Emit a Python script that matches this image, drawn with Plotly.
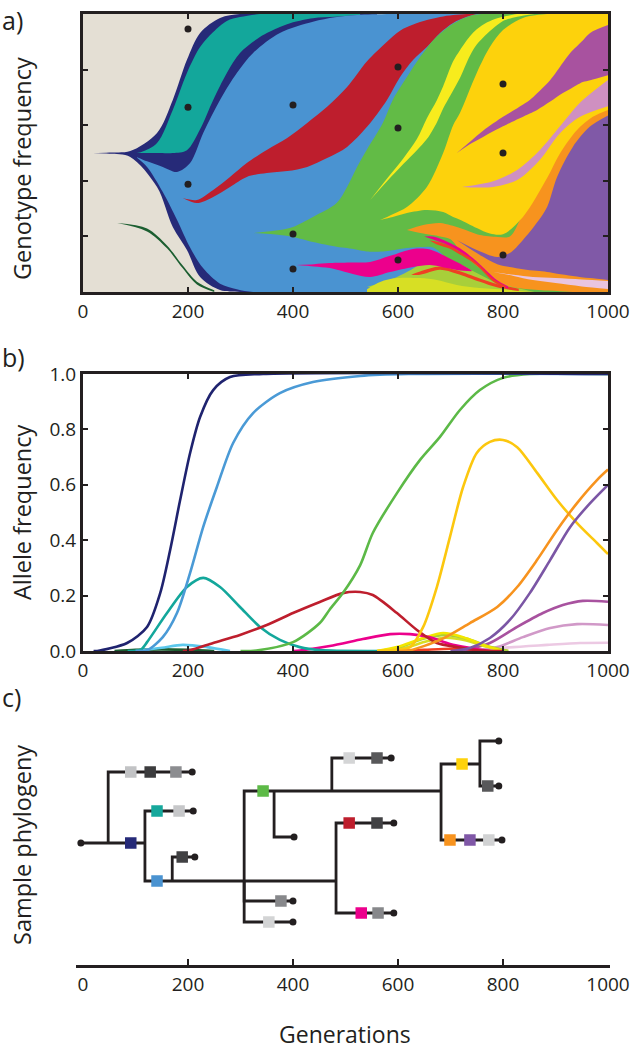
import plotly.graph_objects as go

FONT = "Open Sans"
INK = "#231f20"

# ---------------- Panel a: Muller plot (generation, upper freq, lower freq) ----------------
BG_X = [0, 1000]
BG_HI = [1.0, 1.0]
BG_LO = [0.0, 0.0]

DKGREEN_X = [65, 122, 160, 190, 217, 250]
DKGREEN_HI = [0.248, 0.228, 0.167, 0.095, 0.037, 0.006]
DKGREEN_LO = [0.248, 0.218, 0.157, 0.085, 0.027, 0.0]

NAVY_X = [19, 50, 90, 141, 171, 198, 223, 261, 299, 340, 450, 560]
NAVY_HI = [0.5, 0.502, 0.507, 0.572, 0.691, 0.835, 0.932, 0.986, 1.0, 1.0, 1.0, 1.0]
NAVY_LO = [0.5, 0.497, 0.486, 0.378, 0.234, 0.151, 0.054, 0.007, 0.0, 0.0, 0.0, 0.0]

TEAL_X = [85, 110, 141, 171, 198, 223, 248, 274, 299, 337, 375, 400, 438, 480, 528]
TEAL_HI = [0.5, 0.503, 0.536, 0.655, 0.788, 0.881, 0.935, 0.975, 0.989, 1, 1, 1, 1, 1, 1]
TEAL_LO = [0.5, 0.5, 0.5, 0.5, 0.51, 0.585, 0.691, 0.788, 0.86, 0.917, 0.953, 0.97, 0.985, 0.99, 0.996]

LBLUE_X = [103, 122, 152, 179, 204, 229, 261, 293, 324, 375, 438, 480, 528, 600, 1000]
LBLUE_HI = [0.485, 0.47, 0.45, 0.432, 0.464, 0.572, 0.691, 0.788, 0.86, 0.932, 0.972, 0.988, 0.997, 1, 1]
LBLUE_LO = [0.483, 0.45, 0.36, 0.26, 0.16, 0.085, 0.03, 0.01, 0, 0, 0, 0, 0, 0, 0]

RED_X = [190, 217, 248, 280, 312, 350, 389, 427, 465, 503, 541, 579, 604, 629, 655, 680, 705, 731, 750]
RED_HI = [0.338, 0.331, 0.367, 0.414, 0.464, 0.511, 0.554, 0.608, 0.666, 0.737, 0.83, 0.9, 0.94, 0.962, 0.978, 0.989, 0.996, 1, 1]
RED_LO = [0.338, 0.32, 0.342, 0.378, 0.414, 0.428, 0.435, 0.45, 0.482, 0.522, 0.594, 0.691, 0.773, 0.835, 0.881, 0.932, 0.968, 0.99, 1]

GREEN_X = [324, 375, 400, 438, 483, 503, 522, 540, 571, 590, 617, 642, 667, 693, 718, 743, 760, 1000]
GREEN_HI = [0.212, 0.223, 0.234, 0.27, 0.32, 0.378, 0.45, 0.51, 0.608, 0.691, 0.773, 0.845, 0.906, 0.95, 0.978, 0.996, 1, 1]
GREEN_LO = [0.212, 0.205, 0.198, 0.18, 0.163, 0.158, 0.152, 0.146, 0.146, 0.15, 0.158, 0.162, 0.16, 0.12, 0.06, 0, 0, 0]

YELLOW_X = [547, 580, 610, 636, 655, 674, 686, 705, 718, 737, 750, 770, 789, 800, 827, 860]
YELLOW_HI = [0.331, 0.41, 0.48, 0.55, 0.625, 0.69, 0.74, 0.83, 0.87, 0.92, 0.945, 0.97, 0.985, 0.99, 1, 1]
YELLOW_LO = [0.331, 0.4, 0.46, 0.51, 0.55, 0.61, 0.66, 0.725, 0.77, 0.85, 0.89, 0.93, 0.96, 0.975, 0.99, 1]

ORANGE_X = [617, 648, 680, 700, 718, 740, 756, 790, 813, 838, 884, 909, 941, 971, 1000]
ORANGE_HI = [0.223, 0.241, 0.248, 0.24, 0.23, 0.215, 0.205, 0.198, 0.2, 0.28, 0.42, 0.51, 0.59, 0.64, 0.665]
ORANGE_LO = [0.223, 0.21, 0.2, 0.19, 0.15, 0.11, 0.085, 0.035, 0.02, 0.012, 0.005, 0.003, 0.0, 0.0, 0.0]

GOLD_X = [566, 590, 617, 655, 686, 705, 718, 750, 775, 800, 838, 884, 909, 941, 971, 1000]
GOLD_HI = [0.259, 0.28, 0.306, 0.378, 0.5, 0.6, 0.644, 0.788, 0.881, 0.942, 0.986, 1, 1, 1, 1, 1]
GOLD_LO = [0.259, 0.27, 0.284, 0.295, 0.288, 0.27, 0.26, 0.23, 0.21, 0.208, 0.27, 0.41, 0.5, 0.583, 0.63, 0.655]

LIME_X = [541, 570, 598, 625, 648, 680, 712, 750, 789, 827, 860]
LIME_HI = [0.018, 0.035, 0.054, 0.08, 0.104, 0.115, 0.104, 0.068, 0.032, 0.014, 0.0]
LIME_LO = [0.018, 0.012, 0.005, 0.0, 0.0, 0.0, 0.0, 0.0, 0.0, 0.0, 0.0]

CITRON_X = [541, 566, 598, 642, 674, 712, 756, 813, 850]
CITRON_HI = [0.01, 0.036, 0.05, 0.05, 0.043, 0.025, 0.014, 0.007, 0.0]
CITRON_LO = [0.0, 0.0, 0.0, 0.0, 0.0, 0.0, 0.0, 0.0, 0.0]

VERMIL_X = [625, 642, 680, 712, 756, 790, 830]
VERMIL_HI = [0.062, 0.074, 0.092, 0.078, 0.049, 0.028, 0.012]
VERMIL_LO = [0.062, 0.062, 0.08, 0.066, 0.037, 0.016, 0.004]

HOTPINK_X = [407, 440, 470, 514, 547, 585, 629, 661, 693, 715, 740]
HOTPINK_HI = [0.097, 0.1, 0.104, 0.106, 0.108, 0.13, 0.155, 0.153, 0.126, 0.105, 0.078]
HOTPINK_LO = [0.097, 0.092, 0.086, 0.065, 0.054, 0.072, 0.09, 0.097, 0.086, 0.078, 0.075]

PSTRIPE_X = [650, 667, 693, 718, 743, 770, 789, 810]
PSTRIPE_HI = [0.2, 0.2, 0.182, 0.157, 0.121, 0.074, 0.042, 0.02]
PSTRIPE_LO = [0.2, 0.189, 0.17, 0.145, 0.109, 0.062, 0.03, 0.012]

RSTRIPE_X = [660, 674, 700, 718, 740, 756, 781, 805]
RSTRIPE_HI = [0.185, 0.181, 0.165, 0.145, 0.12, 0.095, 0.048, 0.022]
RSTRIPE_LO = [0.185, 0.171, 0.155, 0.135, 0.11, 0.085, 0.038, 0.014]

PURPLE_X = [712, 750, 789, 813, 838, 864, 884, 903, 933, 965, 1000]
PURPLE_HI = [0.187, 0.151, 0.126, 0.14, 0.187, 0.248, 0.306, 0.414, 0.522, 0.594, 0.635]
PURPLE_LO = [0.187, 0.14, 0.1, 0.09, 0.082, 0.076, 0.072, 0.066, 0.058, 0.05, 0.043]

PALEPINK_X = [781, 820, 857, 900, 950, 1000]
PALEPINK_HI = [0.072, 0.062, 0.054, 0.05, 0.045, 0.04]
PALEPINK_LO = [0.072, 0.058, 0.043, 0.032, 0.02, 0.011]

MAUVE_X = [712, 740, 762, 800, 813, 851, 865, 890, 914, 928, 952, 966, 1000]
MAUVE_HI = [0.5, 0.545, 0.58, 0.63, 0.645, 0.691, 0.715, 0.763, 0.825, 0.86, 0.905, 0.932, 0.96]
MAUVE_LO = [0.5, 0.535, 0.558, 0.596, 0.608, 0.642, 0.655, 0.685, 0.716, 0.73, 0.755, 0.762, 0.78]

ORCHID_X = [722, 750, 781, 827, 870, 909, 947, 1000]
ORCHID_HI = [0.378, 0.386, 0.398, 0.439, 0.51, 0.597, 0.682, 0.763]
ORCHID_LO = [0.378, 0.376, 0.378, 0.403, 0.475, 0.572, 0.63, 0.668]

DOT_GEN = [200, 200, 200, 400, 400, 400, 600, 600, 600, 800, 800, 800]
DOT_FREQ = [0.946, 0.665, 0.388, 0.673, 0.209, 0.083, 0.809, 0.59, 0.115, 0.748, 0.5, 0.133]

# ---------------- Panel b: allele frequencies ----------------
NAVY_AF_X = [20, 27, 84, 122, 147, 166, 185, 204, 223, 248, 280, 343, 1000]
NAVY_AF_Y = [0, 0.0, 0.029, 0.087, 0.209, 0.365, 0.545, 0.715, 0.845, 0.942, 0.989, 1, 1]
LBLUE_AF_X = [100, 122, 152, 179, 204, 229, 255, 286, 324, 375, 438, 528, 620, 1000]
LBLUE_AF_Y = [0, 0.003, 0.05, 0.137, 0.282, 0.448, 0.592, 0.751, 0.859, 0.931, 0.971, 0.993, 1, 1]
TEAL_AF_X = [85, 110, 122, 160, 198, 229, 261, 299, 337, 375, 413, 451, 560]
TEAL_AF_Y = [0, 0.005, 0.032, 0.137, 0.231, 0.264, 0.231, 0.159, 0.087, 0.04, 0.014, 0.003, 0]
RED_AF_X = [190, 204, 248, 299, 350, 400, 451, 495, 528, 552, 598, 636, 674, 712, 750, 800]
RED_AF_Y = [0, 0.003, 0.029, 0.058, 0.094, 0.137, 0.177, 0.209, 0.213, 0.202, 0.137, 0.076, 0.029, 0.014, 0.003, 0]
GREEN_AF_X = [300, 330, 400, 451, 470, 495, 528, 552, 598, 642, 680, 718, 756, 800, 851, 1000]
GREEN_AF_Y = [0, 0.002, 0.032, 0.101, 0.15, 0.209, 0.31, 0.426, 0.57, 0.69, 0.773, 0.87, 0.942, 0.986, 1, 1]
GOLD_AF_X = [560, 600, 623, 648, 674, 699, 724, 750, 775, 800, 827, 865, 903, 941, 979, 1000]
GOLD_AF_Y = [0, 0.005, 0.014, 0.087, 0.231, 0.412, 0.592, 0.715, 0.755, 0.762, 0.736, 0.643, 0.545, 0.462, 0.39, 0.35]
ORANGE_AF_X = [600, 623, 680, 737, 789, 827, 865, 903, 941, 979, 1000]
ORANGE_AF_Y = [0, 0.003, 0.04, 0.101, 0.159, 0.231, 0.329, 0.437, 0.534, 0.617, 0.655]
PURPLE_AF_X = [700, 737, 775, 813, 851, 890, 928, 966, 1000]
PURPLE_AF_Y = [0, 0.011, 0.047, 0.112, 0.209, 0.329, 0.448, 0.534, 0.6]
MAUVE_AF_X = [720, 775, 827, 876, 914, 952, 1000]
MAUVE_AF_Y = [0, 0.029, 0.087, 0.137, 0.166, 0.181, 0.178]
ORCHID_AF_X = [740, 789, 838, 890, 941, 1000]
ORCHID_AF_Y = [0, 0.014, 0.05, 0.083, 0.097, 0.094]
PALEPINK_AF_X = [760, 800, 884, 947, 1000]
PALEPINK_AF_Y = [0, 0.011, 0.022, 0.029, 0.03]
HOTPINK_AF_X = [400, 413, 470, 533, 585, 623, 661, 699, 737, 775]
HOTPINK_AF_Y = [0, 0.002, 0.018, 0.043, 0.061, 0.061, 0.05, 0.025, 0.011, 0]
YELLOW_AF_X = [560, 598, 648, 686, 724, 762, 800]
YELLOW_AF_Y = [0, 0.014, 0.047, 0.065, 0.05, 0.022, 0]
LIME_AF_X = [560, 600, 650, 690, 730, 770, 810]
LIME_AF_Y = [0, 0.012, 0.045, 0.058, 0.045, 0.018, 0]
CITRON_AF_X = [570, 610, 655, 690, 730, 770, 810]
CITRON_AF_Y = [0, 0.01, 0.035, 0.048, 0.038, 0.015, 0]
VERMIL_AF_X = [600, 650, 700, 750, 800]
VERMIL_AF_Y = [0, 0.004, 0.008, 0.004, 0]
CYAN_AF_X = [100, 150, 190, 236, 280]
CYAN_AF_Y = [0, 0.012, 0.022, 0.014, 0]
DKGREEN_AF_X = [60, 100, 150, 200, 250]
DKGREEN_AF_Y = [0, 0.004, 0.006, 0.004, 0]

# ---------------- Panel c: sample phylogeny ----------------
# branches: start generation, end generation, lane, parent lane (vertical link drawn at start)
BR_X0 = [-4, 48, 118, 118, 170, 307, 364, 307, 307, 474, 482, 482, 682, 756, 756, 682]
BR_X1 = [118, 208, 210, 482, 213, 682, 402, 400, 400, 587, 592, 592, 756, 792, 792, 798]
BR_LANE = [11.3, 4.2, 8.1, 15.1, 12.7, 6.1, 10.7, 17.1, 19.2, 2.8, 9.3, 18.3, 3.4, 1.1, 5.6, 11.0]
BR_PARENT = [None, 11.3, 11.3, 11.3, 15.1, 15.1, 6.1, 15.1, 15.1, 6.1, 15.1, 15.1, 6.1, 3.4, 3.4, 6.1]
BR_LEAF = [False, True, True, False, True, False, True, True, True, True, True, True, False, True, True, True]
ROOT_GEN, ROOT_LANE = -4, 11.3

SQ_X = [91, 91, 128, 177, 141, 183, 141, 189, 343, 377, 354, 507, 560, 507, 560, 530, 562,
        722, 771, 699, 737, 773]
SQ_LANE = [11.3, 4.2, 4.2, 4.2, 8.1, 8.1, 15.1, 12.7, 6.1, 17.1, 19.2, 2.8, 2.8, 9.3, 9.3, 18.3, 18.3,
           3.4, 5.6, 11.0, 11.0, 11.0]
SQ_COLOR = ["#262a78", "#c2c3c5", "#3c3c3e", "#8c8d90", "#16a89c", "#c6c7c9", "#4a93d1", "#414143",
            "#5dba47", "#87888b", "#d3d4d5", "#d4d5d6", "#58585a", "#be1e2d", "#414143", "#ec008c",
            "#87888b", "#fed20b", "#58585a", "#f7931e", "#7f57a6", "#d1d2d3"]

TICKS = [0, 200, 400, 600, 800, 1000]

fig = go.Figure()


def band(x, hi, lo, color, ax, shape="spline"):
    fig.add_trace(go.Scatter(x=x, y=lo, mode="lines", line=dict(width=0, shape=shape, smoothing=0.9),
                             hoverinfo="skip", showlegend=False, xaxis=ax[0], yaxis=ax[1]))
    fig.add_trace(go.Scatter(x=x, y=hi, mode="lines", line=dict(width=0, shape=shape, smoothing=0.9),
                             fill="tonexty", fillcolor=color, hoverinfo="skip", showlegend=False,
                             xaxis=ax[0], yaxis=ax[1]))


A = ("x", "y")
band(BG_X, BG_HI, BG_LO, "#e4dfd4", A, shape="linear")
for x, hi, lo, c in [
    (DKGREEN_X, DKGREEN_HI, DKGREEN_LO, "#1b5e30"),
    (NAVY_X, NAVY_HI, NAVY_LO, "#262a78"),
    (TEAL_X, TEAL_HI, TEAL_LO, "#13a79b"),
    (LBLUE_X, LBLUE_HI, LBLUE_LO, "#4a93d1"),
    (RED_X, RED_HI, RED_LO, "#be1e2d"),
    (GREEN_X, GREEN_HI, GREEN_LO, "#62bb46"),
    (YELLOW_X, YELLOW_HI, YELLOW_LO, "#f7ec1d"),
    (ORANGE_X, ORANGE_HI, ORANGE_LO, "#f7931e"),
    (GOLD_X, GOLD_HI, GOLD_LO, "#fdd20c"),
    (LIME_X, LIME_HI, LIME_LO, "#a8cf3a"),
    (CITRON_X, CITRON_HI, CITRON_LO, "#d7df24"),
    (VERMIL_X, VERMIL_HI, VERMIL_LO, "#ef4023"),
    (HOTPINK_X, HOTPINK_HI, HOTPINK_LO, "#ec008c"),
    (PSTRIPE_X, PSTRIPE_HI, PSTRIPE_LO, "#ec008c"),
    (RSTRIPE_X, RSTRIPE_HI, RSTRIPE_LO, "#ef4023"),
    (PURPLE_X, PURPLE_HI, PURPLE_LO, "#8059a7"),
    (PALEPINK_X, PALEPINK_HI, PALEPINK_LO, "#e9c5df"),
    (MAUVE_X, MAUVE_HI, MAUVE_LO, "#a8529f"),
    (ORCHID_X, ORCHID_HI, ORCHID_LO, "#cf90c1"),
]:
    band(x, hi, lo, c, A)

fig.add_trace(go.Scatter(x=DOT_GEN, y=DOT_FREQ, mode="markers",
                         marker=dict(color=INK, size=7), hoverinfo="skip", showlegend=False))

# ---- panel b lines
for x, y, c in [
    (DKGREEN_AF_X, DKGREEN_AF_Y, "#1b5e30"),
    (CYAN_AF_X, CYAN_AF_Y, "#5cc8ec"),
    (VERMIL_AF_X, VERMIL_AF_Y, "#ef4023"),
    (PALEPINK_AF_X, PALEPINK_AF_Y, "#ecc9e3"),
    (ORCHID_AF_X, ORCHID_AF_Y, "#d199c8"),
    (MAUVE_AF_X, MAUVE_AF_Y, "#a8529f"),
    (CITRON_AF_X, CITRON_AF_Y, "#d7df24"),
    (LIME_AF_X, LIME_AF_Y, "#a8cf3a"),
    (YELLOW_AF_X, YELLOW_AF_Y, "#f2e600"),
    (HOTPINK_AF_X, HOTPINK_AF_Y, "#ec008c"),
    (TEAL_AF_X, TEAL_AF_Y, "#13a79b"),
    (RED_AF_X, RED_AF_Y, "#be1e2d"),
    (GREEN_AF_X, GREEN_AF_Y, "#5cb947"),
    (GOLD_AF_X, GOLD_AF_Y, "#fcc70e"),
    (ORANGE_AF_X, ORANGE_AF_Y, "#f7931e"),
    (PURPLE_AF_X, PURPLE_AF_Y, "#7b56a5"),
    (LBLUE_AF_X, LBLUE_AF_Y, "#4a9ad6"),
    (NAVY_AF_X, NAVY_AF_Y, "#1f236f"),
]:
    fig.add_trace(go.Scatter(x=x, y=y, mode="lines", line=dict(color=c, width=2.6, shape="spline", smoothing=0.8),
                             hoverinfo="skip", showlegend=False, xaxis="x2", yaxis="y2"))

# ---- panel c tree
tx, ty = [], []
for x0, x1, lane, par in zip(BR_X0, BR_X1, BR_LANE, BR_PARENT):
    if par is not None:
        tx += [x0, x0, x1, None]
        ty += [par, lane, lane, None]
    else:
        tx += [x0, x1, None]
        ty += [lane, lane, None]
fig.add_trace(go.Scatter(x=tx, y=ty, mode="lines", line=dict(color=INK, width=2.8),
                         hoverinfo="skip", showlegend=False, xaxis="x3", yaxis="y3"))
leaf_x = [ROOT_GEN] + [x1 for x1, lf in zip(BR_X1, BR_LEAF) if lf]
leaf_y = [ROOT_LANE] + [ln for ln, lf in zip(BR_LANE, BR_LEAF) if lf]
fig.add_trace(go.Scatter(x=leaf_x, y=leaf_y, mode="markers", marker=dict(color=INK, size=7),
                         hoverinfo="skip", showlegend=False, xaxis="x3", yaxis="y3"))
fig.add_trace(go.Scatter(x=SQ_X, y=SQ_LANE, mode="markers",
                         marker=dict(symbol="square", color=SQ_COLOR, size=11.5, line=dict(width=0)),
                         hoverinfo="skip", showlegend=False, xaxis="x3", yaxis="y3"))

W, H = 631, 1050


def px(v):
    return v / W


def py(v):
    return 1 - v / H


frame = dict(showline=True, linecolor=INK, linewidth=3, mirror="ticks", ticks="inside",
             ticklen=5, tickwidth=1.5, tickcolor=INK, showgrid=False, zeroline=False,
             automargin=False)
tickfont = dict(family=FONT, size=19, color=INK)

fig.update_layout(
    width=W, height=H, margin=dict(l=0, r=0, t=0, b=0, autoexpand=False),
    paper_bgcolor="white", plot_bgcolor="white", showlegend=False,
    xaxis=dict(domain=[px(83), px(608)], range=[0, 1000], tickvals=TICKS, tickfont=tickfont, **frame),
    yaxis=dict(domain=[py(292), py(14)], range=[0, 1], tickvals=[0, 0.2, 0.4, 0.6, 0.8, 1.0],
               showticklabels=False, **frame),
    xaxis2=dict(domain=[px(83), px(608)], range=[0, 1000], tickvals=TICKS, tickfont=tickfont,
                anchor="y2", **frame),
    yaxis2=dict(domain=[py(651), py(374)], range=[0, 1], tickvals=[0, 0.2, 0.4, 0.6, 0.8, 1.0],
                tickformat=".1f", tickfont=tickfont, anchor="x2", **frame),
    xaxis3=dict(domain=[px(76), px(610)], range=[-13.3, 1003.8], tickvals=TICKS, tickfont=tickfont,
                ticks="", showline=True, linecolor=INK, linewidth=3, showgrid=False, zeroline=False,
                anchor="y3", automargin=False,
                minor=dict(tickmode="array", tickvals=[200, 400, 600, 800], ticks="inside",
                           ticklen=6, tickwidth=1.5, tickcolor=INK)),
    yaxis3=dict(domain=[py(965), py(730)], range=[23.5, 0], visible=False, anchor="x3",
                automargin=False),
)

lab = dict(family=FONT, size=25, color=INK)
for text, y in [("a)", 1), ("b)", 338), ("c)", 678)]:
    fig.add_annotation(text=text, x=px(0), y=py(y), xref="paper", yref="paper", xanchor="left",
                       yanchor="top", showarrow=False, font=lab)
for text, x, y in [("Genotype frequency", 22, 169), ("Allele frequency", 22, 512),
                   ("Sample phylogeny", 22, 845)]:
    fig.add_annotation(text=text, x=px(x), y=py(y), xref="paper", yref="paper", textangle=-90,
                       xanchor="center", yanchor="middle", showarrow=False,
                       font=dict(family=FONT, size=23.5, color=INK))
fig.add_annotation(text="Generations", x=px(345), y=py(1034), xref="paper", yref="paper",
                   xanchor="center", yanchor="middle", showarrow=False,
                   font=dict(family=FONT, size=23, color=INK))

fig.write_html("out.html", config={"displayModeBar": False},
               post_script="document.body.style.margin='0';document.body.style.overflow='hidden';")
